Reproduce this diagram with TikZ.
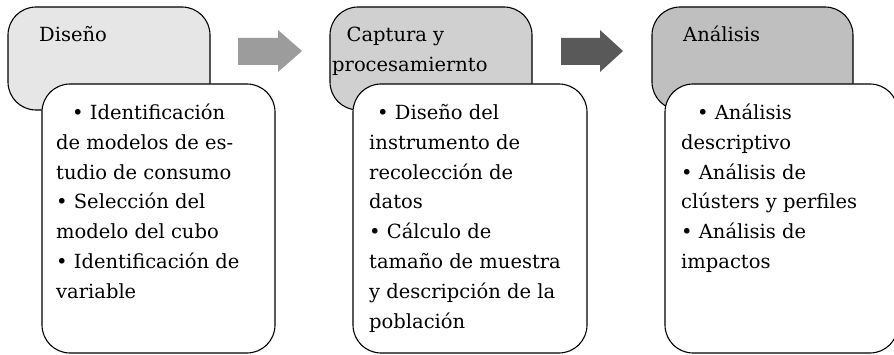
\documentclass[tikz,border=0pt]{standalone}
\usepackage{fontspec}
\setmainfont{DejaVu Serif}
\definecolor{faseuno}{HTML}{E6E6E6}
\definecolor{fasedos}{HTML}{D0D0D0}
\definecolor{fasetres}{HTML}{BFBFBF}
\definecolor{flechauno}{HTML}{9C9C9C}
\definecolor{flechados}{HTML}{595959}
\begin{document}
\begin{tikzpicture}[x=1pt, y=-1pt,
    fase/.style={draw, line width=1.1pt, rounded corners=28pt, inner sep=0pt,
                 minimum height=103pt},
    detalle/.style={draw, line width=1.1pt, rounded corners=28pt, inner sep=0pt,
                 fill=white, minimum height=269pt},
    texto/.style={anchor=base west, align=left, inner sep=0pt,
                 font=\fontsize{19.5}{29.8}\selectfont}]
        \useasboundingbox (0,0) rectangle (894,355);
        % cajas de fase
        \node [fase, fill=faseuno,  minimum width=202pt] (diseno)   at (109,58.5)   {};  %Diseno
        \node [fase, fill=fasedos,  minimum width=202pt] (captura)  at (431,58.5)   {};  %Captura
        \node [fase, fill=fasetres, minimum width=201pt] (analisis) at (752.5,58.5) {};  %Analisis
        % (base = ultima linea)
        \node [texto] (tdiseno)   at (39,42)    {Diseño};
        \node [texto] (tcaptura)  at (332,71.5) {\hspace*{14.5pt}Captura y\\procesamiernto};
        \node [texto] (tanalisis) at (683,42)   {Análisis};
        % flechas
        \fill [flechauno] (238,38) -- (278,38) -- (278,30) -- (302,51)
                          -- (278,72) -- (278,65) -- (238,65) -- cycle;
        \fill [flechados] (561,38) -- (600,38) -- (600,30) -- (623,51)
                          -- (600,72) -- (600,65) -- (561,65) -- cycle;
        % cajas de detalle
        \node [detalle, minimum width=233pt] (ddiseno)   at (158.5,218.5) {};
        \node [detalle, minimum width=234pt] (dcaptura)  at (470,218.5)   {};
        \node [detalle, minimum width=233pt] (danalisis) at (781.5,218.5) {};
        \node [texto] (ldiseno) at (56,298.3)
            {\hspace*{16pt}• Identificación\\de modelos de es-\\tudio de consumo\\
             • Selección del\\modelo del cubo\\• Identificación de\\variable};
        \node [texto] (lcaptura) at (369,328.1)
            {\hspace*{8pt}• Diseño del\\instrumento de\\recolección de\\datos\\
             • Cálculo de\\tamaño de muestra\\y descripción de la\\población};
        \node [texto] (lanalisis) at (681,268.5)
            {\hspace*{16pt}• Análisis\\descriptivo\\• Análisis de\\
             clústers y perfiles\\• Análisis de\\impactos};
\end{tikzpicture}
\end{document}
